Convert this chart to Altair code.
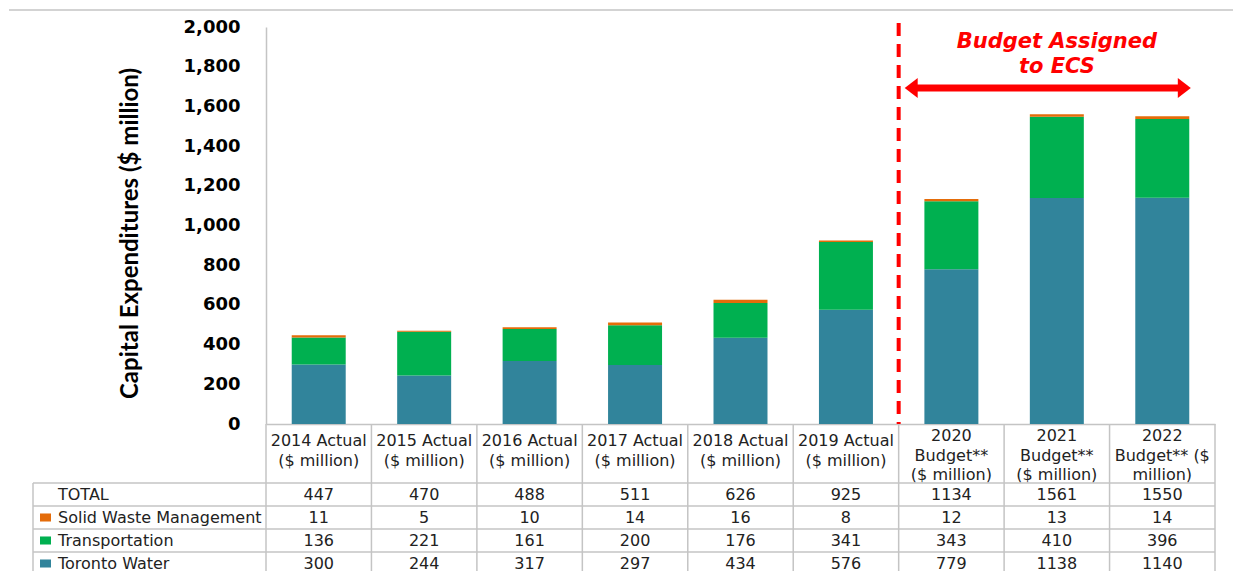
import altair as alt
import pandas as pd

# ---------------- data ----------------
categories = ["2014", "2015", "2016", "2017", "2018", "2019", "2020", "2021", "2022"]
header_labels = [
    "2014 Actual\n($ million)",
    "2015 Actual\n($ million)",
    "2016 Actual\n($ million)",
    "2017 Actual\n($ million)",
    "2018 Actual\n($ million)",
    "2019 Actual\n($ million)",
    "2020\nBudget**\n($ million)",
    "2021\nBudget**\n($ million)",
    "2022\nBudget**  ($\nmillion)",
]
series = ["Toronto Water", "Transportation", "Solid Waste Management"]
toronto_water = [300, 244, 317, 297, 434, 576, 779, 1138, 1140]
transportation = [136, 221, 161, 200, 176, 341, 343, 410, 396]
solid_waste = [11, 5, 10, 14, 16, 8, 12, 13, 14]
totals = [447, 470, 488, 511, 626, 925, 1134, 1561, 1550]
table_rows = ["TOTAL", "Solid Waste Management", "Transportation", "Toronto Water"]
y_ticks = [0, 200, 400, 600, 800, 1000, 1200, 1400, 1600, 1800, 2000]
colors = ["#31849B", "#00B050", "#E46C0A"]

# ---------------- tables ----------------
series_values = {"Toronto Water": toronto_water,
                 "Transportation": transportation,
                 "Solid Waste Management": solid_waste}
bar_rows = []
for k, s in enumerate(series):
    for c, v in zip(categories, series_values[s]):
        bar_rows.append({"cat": c, "series": s, "value": v, "ord": k})
bar_df = pd.DataFrame(bar_rows)

row_values = {"TOTAL": totals, "Solid Waste Management": solid_waste,
              "Transportation": transportation, "Toronto Water": toronto_water}
cell_df = pd.DataFrame([{"cat": c, "row": r, "txt": str(v)}
                        for r in table_rows for c, v in zip(categories, row_values[r])])
head_df = pd.DataFrame({"cat": categories, "label": header_labels,
                        "nl": [lab.count("\n") + 1 for lab in header_labels]})
rowlab_df = pd.DataFrame({"row": table_rows})
key_df = pd.DataFrame({"row": series, "series": series})

W = 949
GRID = "#C4C4C4"
TXT = "#222222"
RED = "#FF0000"
FS = 16

xs = alt.Scale(domain=categories, paddingInner=0, paddingOuter=0)
ys = alt.Scale(domain=[0, 2000], nice=False, zero=True)
cs = alt.Scale(domain=series, range=colors)

yaxis = alt.Axis(values=y_ticks, format=",d", grid=False, ticks=False,
                 labelOverlap=False,
                 labelFont="DejaVu Sans", labelFontWeight="bold",
                 labelFontSize=18, labelColor="black", labelPadding=26,
                 domainColor=GRID, domainWidth=1.5,
                 title="Capital Expenditures ($ million)",
                 titleFont="Lato", titleFontSize=24, titleFontWeight="bold",
                 titleColor="black", titleAngle=-90, titleX=-136, titleY=206,
                 titleAlign="center", titleBaseline="middle")
xaxis = alt.Axis(labels=False, ticks=False, title=None,
                 domainColor=GRID, domainWidth=1.5)

# ---------------- top chart ----------------
bars = alt.Chart(bar_df).mark_bar(width=alt.RelativeBandSize(0.512)).encode(
    x=alt.X("cat:N", scale=xs, sort=categories, axis=xaxis),
    y=alt.Y("value:Q", stack="zero", scale=ys, axis=yaxis),
    color=alt.Color("series:N", scale=cs, legend=None),
    order=alt.Order("ord:Q"),
)

one = pd.DataFrame({"k": [0]})

top_line = alt.Chart(one).mark_rule(color="#D3D3D3", strokeWidth=2).encode(
    x=alt.value(-257), x2=alt.value(W + 18),
    y=alt.Y(datum=2086, scale=ys, axis=yaxis))

dash = alt.Chart(one).mark_rule(color=RED, strokeWidth=4, strokeDash=[13, 8]).encode(
    x=alt.X(datum="2020", bandPosition=0, scale=xs, axis=xaxis),
    y=alt.Y(datum=2020, scale=ys, axis=yaxis), y2=alt.Y2(datum=0))

shaft = alt.Chart(one).mark_rule(color=RED, strokeWidth=7).encode(
    x=alt.X(datum="2020", bandPosition=0.12, scale=xs, axis=xaxis),
    x2=alt.X2(datum="2022", bandPosition=0.71),
    y=alt.Y(datum=1693, scale=ys, axis=yaxis))

head_l = alt.Chart(one).mark_point(
    shape="M-0.65,0L0.65,-1L0.65,1Z", size=400, filled=True, color=RED,
    opacity=1, strokeWidth=0).encode(
    x=alt.X(datum="2020", bandPosition=0.119, scale=xs, axis=xaxis),
    y=alt.Y(datum=1693, scale=ys, axis=yaxis))

head_r = alt.Chart(one).mark_point(
    shape="M0.65,0L-0.65,-1L-0.65,1Z", size=400, filled=True, color=RED,
    opacity=1, strokeWidth=0).encode(
    x=alt.X(datum="2022", bandPosition=0.709, scale=xs, axis=xaxis),
    y=alt.Y(datum=1693, scale=ys, axis=yaxis))

note = alt.Chart(one).mark_text(
    text=["Budget Assigned", "to ECS"], font="DejaVu Sans", fontSize=21,
    fontWeight="bold", fontStyle="italic", color=RED, lineHeight=25,
    align="center", baseline="middle").encode(
    x=alt.X(datum="2021", bandPosition=0.5, scale=xs, axis=xaxis),
    y=alt.Y(datum=1924, scale=ys, axis=yaxis))

top = alt.layer(top_line, bars, dash, shaft, head_l, head_r, note).properties(
    width=W, height=397)

# ---------------- header row ----------------
xh = alt.X("cat:N", scale=xs, sort=categories, axis=None)
head_text = alt.Chart(head_df).mark_text(
    font="DejaVu Sans", fontSize=FS, color=TXT, lineBreak="\n", lineHeight=19.5,
    align="center", baseline="middle").encode(
    x=xh,
    y=alt.Y("nl:O", scale=alt.Scale(domain=[2, 3], range=[19.75, 10]), axis=None),
    text="label:N")
head_vlines = alt.Chart(head_df).mark_rule(color=GRID, strokeWidth=1.5).encode(
    x=alt.X("cat:N", scale=xs, sort=categories, axis=None, bandPosition=0))
head_end = alt.Chart(one).mark_rule(color=GRID, strokeWidth=1.5).encode(
    x=alt.X(datum="2022", bandPosition=1, scale=xs, axis=None))
header = alt.layer(head_vlines, head_end, head_text).properties(width=W, height=59)

# ---------------- data table ----------------
yr = alt.Scale(domain=table_rows, paddingInner=0, paddingOuter=0)
cells = alt.Chart(cell_df).mark_text(
    font="DejaVu Sans", fontSize=FS, color=TXT, align="center", baseline="middle").encode(
    x=alt.X("cat:N", scale=xs, sort=categories, axis=None),
    y=alt.Y("row:N", scale=yr, sort=table_rows, axis=None),
    text="txt:N")
row_lines = alt.Chart(rowlab_df).mark_rule(color=GRID, strokeWidth=1.5).encode(
    y=alt.Y("row:N", scale=yr, sort=table_rows, axis=None, bandPosition=0),
    x=alt.value(-233), x2=alt.value(W))
row_end = alt.Chart(one).mark_rule(color=GRID, strokeWidth=1.5).encode(
    y=alt.Y(datum="Toronto Water", scale=yr, bandPosition=1, axis=None),
    x=alt.value(-233), x2=alt.value(W))
col_lines = alt.Chart(head_df).mark_rule(color=GRID, strokeWidth=1.5).encode(
    x=alt.X("cat:N", scale=xs, sort=categories, axis=None, bandPosition=0))
col_end = alt.Chart(one).mark_rule(color=GRID, strokeWidth=1.5).encode(
    x=alt.X(datum="2022", bandPosition=1, scale=xs, axis=None))
left_border = alt.Chart(one).mark_rule(color=GRID, strokeWidth=1.5).encode(
    x=alt.value(-233))
row_labels = alt.Chart(rowlab_df).mark_text(
    font="DejaVu Sans", fontSize=FS, color=TXT, align="left", baseline="middle").encode(
    x=alt.value(-208),
    y=alt.Y("row:N", scale=yr, sort=table_rows, axis=None),
    text="row:N")
keys = alt.Chart(key_df).mark_point(
    shape="M-1,-0.73L1,-0.73L1,0.73L-1,0.73Z", size=121, filled=True,
    opacity=1, strokeWidth=0).encode(
    x=alt.value(-220.5),
    y=alt.Y("row:N", scale=yr, sort=table_rows, axis=None),
    color=alt.Color("series:N", scale=cs, legend=None))
table = alt.layer(row_lines, row_end, col_lines, col_end, left_border,
                  cells, row_labels, keys).properties(width=W, height=92)

chart = alt.vconcat(top, header, table, spacing=0, bounds="flush").properties(
    padding=0
).configure_view(stroke=None).configure_axis(labelOverlap=False).resolve_scale(x="shared")

chart.save("out.html", embed_options={"renderer": "svg", "actions": False})
